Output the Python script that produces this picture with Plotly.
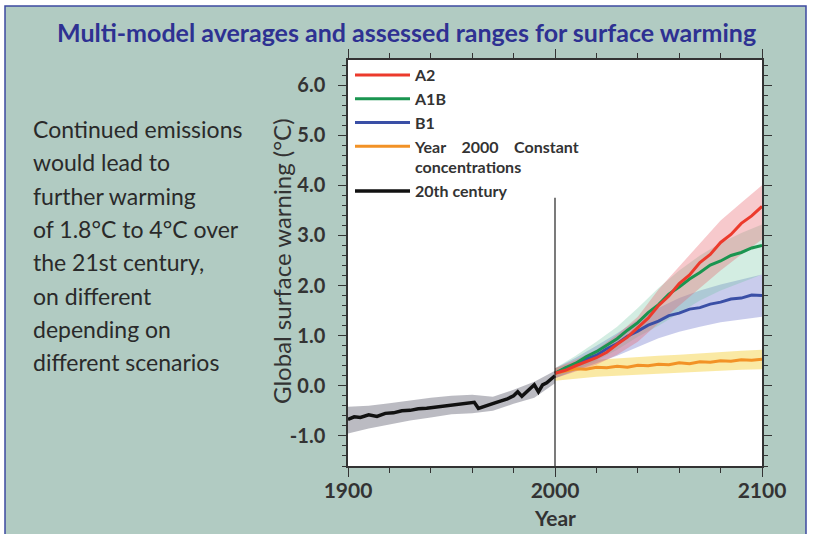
import plotly.graph_objects as go

# ---------------- data ----------------
hist_years = [1900, 1903, 1906, 1910, 1914, 1918, 1922, 1926, 1930, 1934, 1938, 1942,
              1946, 1950, 1954, 1958, 1961, 1963, 1965, 1968, 1971, 1974, 1977, 1980,
              1982, 1984, 1986, 1988, 1990, 1992, 1994, 1996, 1998, 2000]
hist_mean = [-0.67, -0.62, -0.63, -0.58, -0.61, -0.55, -0.54, -0.5, -0.49, -0.46, -0.45,
             -0.43, -0.41, -0.39, -0.36, -0.34, -0.33, -0.45, -0.42, -0.37, -0.34, -0.3,
             -0.26, -0.2, -0.12, -0.21, -0.14, -0.06, 0.02, -0.12, 0.02, 0.06, 0.12, 0.2]

band_hist_years = [1900, 1910, 1920, 1930, 1940, 1950, 1960, 1970, 1980, 1990, 2000]
hist_lower = [-0.95, -0.85, -0.77, -0.69, -0.63, -0.57, -0.55, -0.5, -0.36, -0.24, 0.05]
hist_upper = [-0.42, -0.4, -0.35, -0.29, -0.24, -0.2, -0.18, -0.22, -0.08, 0.08, 0.3]

scen_years = [2000, 2005, 2010, 2015, 2020, 2025, 2030, 2035, 2040, 2045, 2050,
              2055, 2060, 2065, 2070, 2075, 2080, 2085, 2090, 2095, 2100]
a2_mean = [0.25, 0.31, 0.4, 0.48, 0.56, 0.67, 0.83, 0.97, 1.17, 1.35, 1.6,
           1.79, 2.04, 2.21, 2.46, 2.62, 2.86, 3.02, 3.24, 3.39, 3.58]
a1b_mean = [0.25, 0.36, 0.45, 0.58, 0.68, 0.81, 0.94, 1.11, 1.26, 1.46, 1.62,
            1.83, 1.97, 2.13, 2.26, 2.41, 2.49, 2.6, 2.66, 2.75, 2.8]
b1_mean = [0.25, 0.35, 0.42, 0.53, 0.61, 0.74, 0.84, 0.99, 1.09, 1.21, 1.29,
           1.4, 1.45, 1.53, 1.56, 1.63, 1.67, 1.73, 1.75, 1.81, 1.8]
const_mean = [0.25, 0.3, 0.34, 0.33, 0.37, 0.36, 0.39, 0.37, 0.41, 0.4, 0.43,
              0.42, 0.46, 0.44, 0.48, 0.47, 0.5, 0.49, 0.52, 0.51, 0.53]

band_years = [2000, 2010, 2020, 2030, 2040, 2050, 2060, 2070, 2080, 2090, 2100]
a2_lower = [0.15, 0.28, 0.42, 0.62, 0.88, 1.25, 1.6, 1.95, 2.3, 2.62, 2.92]
a2_upper = [0.35, 0.52, 0.72, 1.02, 1.38, 1.92, 2.38, 2.85, 3.3, 3.65, 4.0]
a1b_lower = [0.15, 0.32, 0.5, 0.72, 0.98, 1.2, 1.45, 1.7, 1.9, 2.06, 2.22]
a1b_upper = [0.35, 0.6, 0.88, 1.18, 1.55, 1.95, 2.3, 2.6, 2.85, 3.05, 3.22]
b1_lower = [0.15, 0.3, 0.45, 0.6, 0.78, 0.95, 1.08, 1.18, 1.27, 1.33, 1.38]
b1_upper = [0.35, 0.56, 0.8, 1.05, 1.32, 1.55, 1.75, 1.9, 2.02, 2.12, 2.22]
const_lower = [0.1, 0.14, 0.18, 0.2, 0.22, 0.25, 0.27, 0.28, 0.3, 0.32, 0.33]
const_upper = [0.35, 0.48, 0.52, 0.55, 0.58, 0.6, 0.62, 0.65, 0.68, 0.7, 0.72]

x_tick_vals = [1900, 2000, 2100]
y_tick_vals = [-1.0, 0.0, 1.0, 2.0, 3.0, 4.0, 5.0, 6.0]
y_tick_text = ["-1.0", "0.0", "1.0", "2.0", "3.0", "4.0", "5.0", "6.0"]

title_text = "Multi-model averages and assessed ranges for surface warming"
y_title_text = "Global surface warning (°C)"
x_title_text = "Year"
side_lines = ["Continued emissions", "would lead to", "further warming",
              "of 1.8°C to 4°C over", "the 21st century,", "on different",
              "depending on", "different scenarios"]
legend_names = ["A2", "A1B", "B1",
                "Year\u00a0\u00a0\u00a0\u00a02000\u00a0\u00a0\u00a0\u00a0Constant<br>concentrations",
                "20th century"]

# ---------------- layout helpers ----------------
W, H = 814, 534
PL, PR, PT, PB = 348, 762, 60, 466


def px_x(p):
    return (p - PL) / (PR - PL)


def px_y(p):
    return (PB - p) / (PB - PT)


fig = go.Figure()


def band(xs, lo, hi, color):
    fig.add_trace(go.Scatter(
        x=list(xs) + list(xs)[::-1], y=list(hi) + list(lo)[::-1],
        fill="toself", fillcolor=color, mode="lines", line=dict(width=0),
        hoverinfo="skip", showlegend=False))


band(band_hist_years, hist_lower, hist_upper, "rgba(105,105,120,0.45)")
band(band_years, const_lower, const_upper, "rgba(245,215,90,0.55)")
band(band_years, b1_lower, b1_upper, "rgba(100,110,200,0.35)")
band(band_years, a1b_lower, a1b_upper, "rgba(110,195,160,0.30)")
band(band_years, a2_lower, a2_upper, "rgba(230,90,100,0.33)")

series = [
    (hist_years, hist_mean, "#111111", legend_names[4], 5, 3.5),
    (scen_years, const_mean, "#f29226", legend_names[3], 4, 3),
    (scen_years, b1_mean, "#3a4fa6", legend_names[2], 3, 3),
    (scen_years, a1b_mean, "#1a9550", legend_names[1], 2, 3),
    (scen_years, a2_mean, "#ec3a2c", legend_names[0], 1, 3),
]
for xs, ys, col, name, rank, lw in series:
    fig.add_trace(go.Scatter(x=xs, y=ys, mode="lines", name=name,
                             line=dict(color=col, width=lw), legendrank=rank))

BASE_FONT = "Lato, 'Open Sans', sans-serif"
annotations = [dict(
    text="<b>" + title_text + "</b>", xref="paper", yref="paper",
    x=px_x(406), y=px_y(32), xanchor="center", yanchor="middle", showarrow=False,
    font=dict(family=BASE_FONT, size=25, color="#2e3192"))]
for i, line in enumerate(side_lines):
    annotations.append(dict(
        text=line, xref="paper", yref="paper", x=px_x(31), y=px_y(129 + i * 33.3),
        xanchor="left", yanchor="middle", showarrow=False,
        font=dict(family=BASE_FONT, size=23, color="#2a2a2a")))
annotations.append(dict(
    text=y_title_text, xref="paper", yref="paper", x=px_x(281), y=px_y(261),
    xanchor="center", yanchor="middle", textangle=-90, showarrow=False,
    font=dict(family=BASE_FONT, size=24, color="#333333")))
annotations.append(dict(
    text="<b>" + x_title_text + "</b>", xref="paper", yref="paper", x=px_x(555),
    y=px_y(517), xanchor="center", yanchor="middle", showarrow=False,
    font=dict(family=BASE_FONT, size=21, color="#333333")))

shapes = [
    dict(type="rect", xref="paper", yref="paper", x0=px_x(5), x1=px_x(806),
         y0=px_y(560), y1=px_y(6), fillcolor="#b1cbc2",
         line=dict(color="#3d4aa0", width=1.5), layer="below"),
    dict(type="rect", xref="paper", yref="paper", x0=0, x1=1, y0=0, y1=1,
         fillcolor="white", line=dict(width=0), layer="below"),
    dict(type="line", xref="x", yref="y", x0=2000, x1=2000, y0=-1.6, y1=3.75,
         line=dict(color="#222222", width=1.2), layer="above"),
]

fig.update_layout(
    width=W, height=H,
    margin=dict(l=PL, r=W - PR, t=PT, b=H - PB, autoexpand=False),
    paper_bgcolor="white", plot_bgcolor="white",
    font=dict(family=BASE_FONT, color="#333333"),
    annotations=annotations, shapes=shapes,
    showlegend=True,
    legend=dict(x=px_x(350), y=px_y(58), xanchor="left", yanchor="top",
                bgcolor="rgba(0,0,0,0)", borderwidth=0, valign="top",
                itemwidth=55,
                font=dict(family=BASE_FONT, size=16, color="#333333", weight="bold"),
                tracegroupgap=0),
)

fig.update_xaxes(
    range=[1900, 2100], tickvals=x_tick_vals, ticktext=[str(v) for v in x_tick_vals],
    ticks="outside", ticklen=9, tickwidth=1.3, tickcolor="#333",
    showline=True, linecolor="#333", linewidth=1.5, mirror="allticks",
    showgrid=False, zeroline=False, automargin=False,
    tickfont=dict(family=BASE_FONT, size=21, color="#333", weight="bold"),
    ticklabelstandoff=-4,
    minor=dict(dtick=20, tick0=1900, ticks="outside", ticklen=5, tickcolor="#333",
               showgrid=False),
)
fig.update_yaxes(
    range=[-1.6, 6.5], tickvals=y_tick_vals, ticktext=y_tick_text,
    ticks="outside", ticklen=8, tickwidth=1.3, tickcolor="#333",
    showline=True, linecolor="#333", linewidth=1.5, mirror="allticks",
    showgrid=False, zeroline=False, automargin=False,
    tickfont=dict(family=BASE_FONT, size=20, color="#333", weight="bold"),
    ticklabelstandoff=9,
    minor=dict(dtick=0.2, tick0=0, ticks="outside", ticklen=4, tickcolor="#333",
               showgrid=False),
)

fig.write_html("out.html", config={"displayModeBar": False},
               post_script="document.body.style.margin='0';document.body.style.overflow='hidden';")
